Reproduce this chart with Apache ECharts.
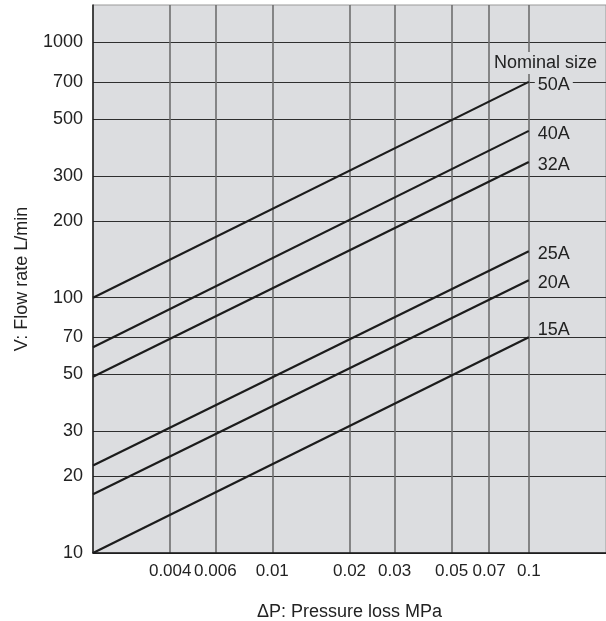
<!DOCTYPE html>
<html>
<head>
<meta charset="utf-8">
<script src="https://cdn.jsdelivr.net/npm/echarts@6/dist/echarts.min.js"></script>
<style>
html,body{margin:0;padding:0;background:#fff;}
#c{width:606px;height:621px;}
</style>
</head>
<body>
<div id="c"></div>
<script>
// ---- data ----
const sizes = ['50A', '40A', '32A', '25A', '20A', '15A'];
const pressureLoss = [0.002, 0.1];           // MPa, line endpoints
const flow50A = [100, 700];
const flow40A = [64, 450];
const flow32A = [49, 340];
const flow25A = [22, 152];
const flow20A = [17, 117];
const flow15A = [10, 70];
const xTicks = [0.004, 0.006, 0.01, 0.02, 0.03, 0.05, 0.07, 0.1];
const yTicks = [10, 20, 30, 50, 70, 100, 200, 300, 500, 700, 1000];

const flows = [flow50A, flow40A, flow32A, flow25A, flow20A, flow15A];
const FONT = '"Liberation Sans", Arial, Helvetica, sans-serif';
const BG = '#dcdde0';
const TXT = '#222';
const FS = 18;

const chart = echarts.init(document.getElementById('c'), null, {renderer: 'canvas'});

const series = sizes.map((name, i) => ({
  name: name,
  type: 'line',
  data: pressureLoss.map((p, k) => [p, flows[i][k]]),
  symbol: 'none',
  silent: true,
  z: 5,
  lineStyle: {color: '#1c1c1c', width: 2.2},
  endLabel: {
    show: true,
    formatter: '{a}',
    color: TXT,
    fontFamily: FONT,
    fontSize: FS,
    distance: 6,
    backgroundColor: name === '50A' ? BG : 'transparent',
    padding: [1, 3],
    offset: name === '15A' ? [0, -7] : [0, 3]
  }
}));

chart.setOption({
  animation: false,
  backgroundColor: '#fff',
  title: {
    text: 'Nominal size',
    left: 492,
    top: 52,
    padding: [2, 2],
    backgroundColor: BG,
    textStyle: {fontFamily: FONT, fontSize: FS, fontWeight: 'normal', color: TXT}
  },
  grid: {
    left: 93, right: 0, top: 5, bottom: 68,
    show: true, backgroundColor: BG, borderColor: '#999', borderWidth: 1,
    containLabel: false,
    outerBoundsMode: 'none'
  },
  xAxis: {
    type: 'log', logBase: 10, min: 0.002, max: 0.2,
    name: 'ΔP: Pressure loss MPa',
    nameLocation: 'middle', nameGap: 50,
    nameTextStyle: {fontFamily: FONT, fontSize: FS, color: TXT},
    axisLine: {show: true, onZero: false, lineStyle: {color: '#1a1a1a', width: 1.5}},
    axisTick: {show: false, customValues: xTicks},
    axisLabel: {customValues: xTicks, fontFamily: FONT, fontSize: 17, color: TXT, margin: 10,
      hideOverlap: false,
      formatter: v => String(+v.toPrecision(3))},
    splitLine: {show: true, lineStyle: {color: '#6f6f6f', width: 1.6}},
    minorSplitLine: {show: false}
  },
  yAxis: {
    type: 'log', logBase: 10, min: 10, max: 1400,
    name: 'V: Flow rate L/min',
    nameLocation: 'middle', nameGap: 62,
    nameTextStyle: {fontFamily: FONT, fontSize: FS, color: TXT},
    axisLine: {show: true, onZero: false, lineStyle: {color: '#1a1a1a', width: 1.5}},
    axisTick: {show: false, customValues: yTicks},
    axisLabel: {customValues: yTicks, fontFamily: FONT, fontSize: FS, color: TXT, margin: 10,
      formatter: v => String(Math.round(v))},
    splitLine: {show: true, lineStyle: {color: '#2e2e2e', width: 1.2}}
  },
  series: series
});
</script>
</body>
</html>
